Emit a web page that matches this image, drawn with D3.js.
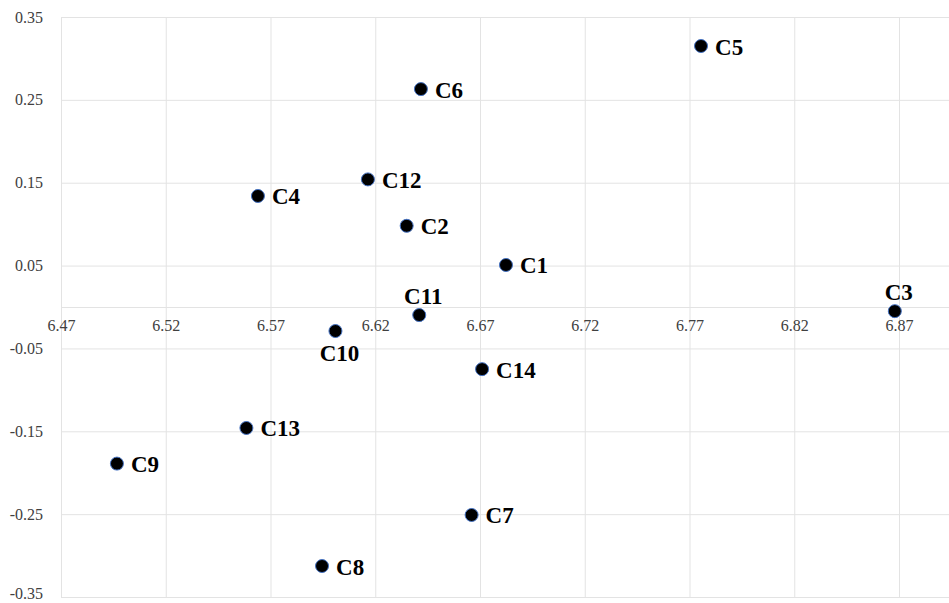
<!DOCTYPE html>
<html>
<head>
<meta charset="utf-8">
<script src="https://cdn.jsdelivr.net/npm/d3@7"></script>
<style>
  html, body { margin: 0; padding: 0; background: #fff; }
  svg { display: block; }
</style>
</head>
<body>
<svg id="chart" width="949" height="603"></svg>
<script>
// ---- data ----
const names  = ["C1","C2","C3","C4","C5","C6","C7","C8","C9","C10","C11","C12","C13","C14"];
const xVals  = [6.6824,6.6350,6.8680,6.5640,6.7755,6.6418,6.6660,6.5946,6.4967,6.6010,6.6410,6.6165,6.5585,6.6710];
const yVals  = [0.0507,0.0980,-0.0050,0.1340,0.3150,0.2630,-0.2510,-0.3126,-0.1890,-0.0290,-0.0097,0.1540,-0.1460,-0.0750];
const labelSide = ["right","right","above","right","right","right","right","right","right","below","above","right","right","right"];
const xTicks = [6.47,6.52,6.57,6.62,6.67,6.72,6.77,6.82,6.87];
const yTicks = [0.35,0.25,0.15,0.05,-0.05,-0.15,-0.25,-0.35];

// ---- layout ----
const svg = d3.select("#chart");
const pLeft = 61, pTop = 17, pRight = 949, pBottom = 597;
const x = d3.scaleLinear().domain([6.47, 6.47 + (pRight - pLeft) / 2095]).range([pLeft, pRight]);
const y = d3.scaleLinear().domain([-0.35, 0.35]).range([pBottom, pTop]);
const gridColor = "#e3e3e3";
const tickFont = "'Liberation Serif','Times New Roman',serif";
const fmt = d => d.toFixed(2);

// grid (vertical)
svg.append("g")
  .attr("transform", `translate(0,${pBottom})`)
  .call(d3.axisBottom(x).tickValues(xTicks).tickSize(-(pBottom - pTop)).tickFormat(""))
  .call(g => g.select(".domain").remove())
  .call(g => g.selectAll("line").attr("stroke", gridColor).attr("stroke-width", 1));

// grid (horizontal)
svg.append("g")
  .attr("transform", `translate(${pLeft},0)`)
  .call(d3.axisLeft(y).tickValues(yTicks).tickSize(-(pRight - pLeft)).tickFormat(""))
  .call(g => g.select(".domain").remove())
  .call(g => g.selectAll("line").attr("stroke", gridColor).attr("stroke-width", 1));

// plot border (left / bottom / top)
svg.append("path")
  .attr("d", `M${pRight},${pTop + 0.5}H${pLeft + 0.5}V${pBottom + 0.5}H${pRight}`)
  .attr("fill", "none").attr("stroke", gridColor).attr("stroke-width", 1);

// x axis line at y=0 with labels below
const xAxis = svg.append("g")
  .attr("transform", `translate(0,${y(0)})`)
  .call(d3.axisBottom(x).tickValues(xTicks).tickSize(0).tickPadding(13).tickFormat(fmt));
xAxis.select(".domain").attr("stroke", gridColor).attr("d", `M${pLeft},0.5H${pRight}`);
xAxis.selectAll("text")
  .attr("font-family", tickFont).attr("font-size", 16).attr("fill", "#404040");

// y axis labels
const yAxis = svg.append("g")
  .attr("transform", `translate(${pLeft},0)`)
  .call(d3.axisLeft(y).tickValues(yTicks).tickSize(0).tickPadding(18).tickFormat(fmt));
yAxis.select(".domain").remove();
yAxis.selectAll("text")
  .attr("font-family", tickFont).attr("font-size", 16).attr("fill", "#404040")
  .attr("dy", d => d === -0.35 ? "0.1em" : "0.32em");

// points
const data = names.map((n, i) => ({ name: n, x: xVals[i], y: yVals[i], side: labelSide[i] }));

svg.append("g").selectAll("circle").data(data).join("circle")
  .attr("cx", d => x(d.x)).attr("cy", d => y(d.y)).attr("r", 6.5)
  .attr("fill", "#000").attr("stroke", "#4472c4").attr("stroke-width", 1);

svg.append("g").selectAll("text").data(data).join("text")
  .attr("x", d => d.side === "right" ? x(d.x) + 14 : x(d.x) + 4)
  .attr("y", d => d.side === "right" ? y(d.y) + 1 : d.side === "above" ? y(d.y) - 19 : y(d.y) + 22)
  .attr("text-anchor", d => d.side === "right" ? "start" : "middle")
  .attr("dominant-baseline", "central")
  .attr("font-family", tickFont).attr("font-weight", "bold").attr("font-size", 23)
  .attr("fill", "#000")
  .text(d => d.name);
</script>
</body>
</html>
